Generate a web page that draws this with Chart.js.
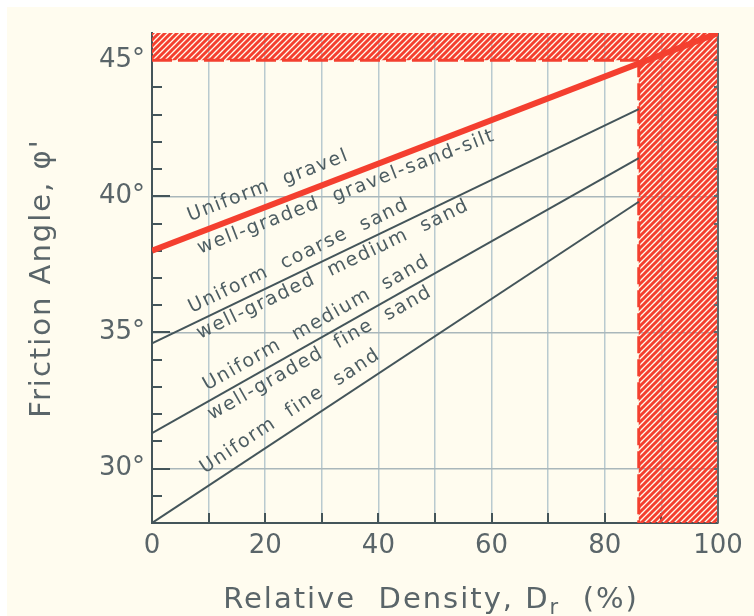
<!DOCTYPE html>
<html>
<head>
<meta charset="utf-8">
<script src="https://cdn.jsdelivr.net/npm/chart.js@4.4.1/dist/chart.umd.min.js"></script>
<style>
  html, body { margin: 0; padding: 0; background: #fff; }
  #wrap { width: 754px; height: 616px; }
</style>
</head>
<body>
<div id="wrap"><canvas id="chart" width="754" height="616"></canvas></div>
<script>
// relative density (%) at both ends of each line
const sandEnds = [0, 86];
const gravelEnds = [0, 100];
// friction angle (deg) at those ends
const coarseSand = [34.6, 43.2];
const mediumSand = [31.3, 41.4];
const fineSand = [28.0, 39.8];
const uniformGravel = [38.0, 46.0];

// limits of the hatched zones
const capAngle = 45;
const capDensity = 86;

// labels written along the lines
const labelTexts = ['Uniform  gravel', 'well-graded  gravel-sand-silt', 'Uniform  coarse  sand',
  'well-graded  medium  sand', 'Uniform  medium  sand', 'well-graded  fine  sand', 'Uniform  fine  sand'];
const labelLine = [3, 3, 0, 0, 1, 1, 2];          // dataset index
const labelStart = [7.6, 7.2, 7.8, 7.2, 10.6, 9.0, 10.5]; // density where text starts

// perpendicular gap of each label from its line (px, negative = above)
const LABEL_GAP = [-14, 20, -10, 17, -10, 18, -12];

const RED = '#f43f2f';
const INK = '#44555a';
const SOFT = '#5a6569';
const FONT = '"DejaVu Sans", sans-serif';

function pts(xs, ys) { return xs.map((x, i) => ({ x, y: ys[i] })); }

function hatchPattern(ctx) {
  const c = document.createElement('canvas');
  c.width = 6; c.height = 6;
  const g = c.getContext('2d');
  g.strokeStyle = RED; g.lineWidth = 3;
  g.beginPath();
  g.moveTo(-1, 7); g.lineTo(7, -1);
  g.moveTo(-1, 1); g.lineTo(1, -1);
  g.moveTo(5, 7); g.lineTo(7, 5);
  g.stroke();
  return ctx.createPattern(c, 'repeat');
}

const paperPlugin = {
  id: 'paper',
  beforeDraw(chart) {
    const ctx = chart.ctx;
    ctx.save();
    ctx.fillStyle = '#ffffff';
    ctx.fillRect(0, 0, chart.width, chart.height);
    ctx.fillStyle = '#fffcef';
    ctx.fillRect(7, 7, chart.width - 7, chart.height - 7);
    ctx.restore();
  }
};

const zonesPlugin = {
  id: 'zones',
  beforeDatasetsDraw(chart) {
    const { ctx, chartArea: a, scales: { x, y } } = chart;
    const yCap = y.getPixelForValue(capAngle);
    const xCap = x.getPixelForValue(capDensity);
    ctx.save();

    // inward ticks
    ctx.strokeStyle = INK; ctx.lineWidth = 2;
    ctx.beginPath();
    for (let v = 29; v < capAngle; v++) {
      const py = Math.round(y.getPixelForValue(v));
      const len = v % 5 === 0 ? 18 : 10;
      ctx.moveTo(a.left, py); ctx.lineTo(a.left + len, py);
    }
    for (let v = 10; v < 100; v += 10) {
      const px = Math.round(x.getPixelForValue(v));
      ctx.moveTo(px, a.bottom); ctx.lineTo(px, a.bottom - 10);
    }
    ctx.stroke();

    // hatched zones
    ctx.fillStyle = hatchPattern(ctx);
    ctx.fillRect(a.left, a.top, a.right - a.left, yCap - a.top);
    ctx.fillRect(xCap, yCap, a.right - xCap, a.bottom - yCap);

    // dashed edges
    ctx.strokeStyle = RED; ctx.lineWidth = 3;
    ctx.setLineDash([20, 6]);
    ctx.beginPath();
    ctx.moveTo(a.left, yCap); ctx.lineTo(xCap, yCap);
    ctx.stroke();
    ctx.setLineDash([17, 6]);
    ctx.beginPath();
    ctx.moveTo(xCap, yCap); ctx.lineTo(xCap, a.bottom);
    ctx.stroke();
    ctx.setLineDash([]);

    // right frame with small ticks
    ctx.strokeStyle = '#5d6a6e'; ctx.lineWidth = 2;
    ctx.beginPath();
    ctx.moveTo(a.right, a.top); ctx.lineTo(a.right, a.bottom);
    for (let v = 29; v < 46; v++) {
      const py = Math.round(y.getPixelForValue(v));
      ctx.moveTo(a.right, py); ctx.lineTo(a.right - 4, py);
    }
    ctx.stroke();
    ctx.restore();
  }
};

const textPlugin = {
  id: 'texts',
  afterDatasetsDraw(chart) {
    const { ctx, scales: { x, y } } = chart;
    ctx.save();
    ctx.fillStyle = '#4d5d62';
    ctx.font = '19px ' + FONT;
    ctx.letterSpacing = '1.6px';
    ctx.textBaseline = 'alphabetic';
    labelTexts.forEach((txt, i) => {
      const d = chart.data.datasets[labelLine[i]].data;
      const p0 = d[0], p1 = d[d.length - 1];
      const ang = Math.atan2(y.getPixelForValue(p1.y) - y.getPixelForValue(p0.y),
                             x.getPixelForValue(p1.x) - x.getPixelForValue(p0.x));
      const t = (labelStart[i] - p0.x) / (p1.x - p0.x);
      const px = x.getPixelForValue(labelStart[i]);
      const py = y.getPixelForValue(p0.y + t * (p1.y - p0.y));
      ctx.save();
      ctx.translate(px, py);
      ctx.rotate(ang);
      ctx.fillText(txt, 0, LABEL_GAP[i]);
      ctx.restore();
    });
    ctx.restore();
  },
  afterDraw(chart) {
    const { ctx, chartArea: a } = chart;
    ctx.save();
    ctx.fillStyle = SOFT;
    ctx.font = '29px ' + FONT;
    ctx.letterSpacing = '2px';
    ctx.textBaseline = 'alphabetic';

    // y title
    ctx.save();
    ctx.translate(50, (a.top + a.bottom) / 2);
    ctx.rotate(-Math.PI / 2);
    ctx.textAlign = 'center';
    ctx.fillText("Friction Angle, \u03c6'", 0, 0);
    ctx.restore();

    // x title with subscript
    const head = 'Relative  Density, D', tail = '  (%)';
    const wHead = ctx.measureText(head).width;
    const wTail = ctx.measureText(tail).width;
    ctx.font = '21px ' + FONT;
    const wSub = ctx.measureText('r').width;
    let sx = (a.left + a.right) / 2 - 4 - (wHead + wSub + wTail) / 2;
    const base = 608;
    ctx.textAlign = 'left';
    ctx.font = '29px ' + FONT;
    ctx.fillText(head, sx, base);
    sx += wHead;
    ctx.font = '21px ' + FONT;
    ctx.fillText('r', sx, base + 6);
    sx += wSub;
    ctx.font = '29px ' + FONT;
    ctx.fillText(tail, sx, base);
    ctx.restore();
  }
};

const darkLine = (data) => ({
  data, showLine: true, borderColor: INK, borderWidth: 2, pointRadius: 0, tension: 0
});

new Chart(document.getElementById('chart'), {
  type: 'scatter',
  data: {
    datasets: [
      darkLine(pts(sandEnds, coarseSand)),
      darkLine(pts(sandEnds, mediumSand)),
      darkLine(pts(sandEnds, fineSand)),
      { data: pts(gravelEnds, uniformGravel), showLine: true, borderColor: RED,
        borderWidth: 6, pointRadius: 0, tension: 0 }
    ]
  },
  options: {
    responsive: false,
    animation: false,
    layout: { padding: { left: 0, top: 33, right: 36, bottom: 0 } },
    plugins: { legend: { display: false }, tooltip: { enabled: false } },
    scales: {
      x: {
        type: 'linear', min: 0, max: 100,
        afterFit(s) { s.height = 93; },
        ticks: {
          stepSize: 10, autoSkip: false, maxRotation: 0, padding: 8,
          color: SOFT, font: { family: FONT, size: 26 },
          callback: v => (v % 20 === 0 ? String(v) : '')
        },
        grid: {
          drawTicks: false, lineWidth: 1.5,
          color: c => (c.tick.value > 0 && c.tick.value < 100 ? '#b9cacf' : 'rgba(0,0,0,0)')
        },
        border: { display: true, color: INK, width: 2 }
      },
      y: {
        type: 'linear', min: 28, max: 46,
        afterFit(s) { s.width = 152; },
        ticks: {
          stepSize: 1, autoSkip: false, padding: 7,
          color: SOFT, font: { family: FONT, size: 26 },
          callback: v => (v % 5 === 0 && v < 46 ? v + '\u00b0' : '')
        },
        grid: {
          drawTicks: false, lineWidth: 1.5,
          color: c => ([30, 35, 40].includes(c.tick.value) ? '#aab7bb' : 'rgba(0,0,0,0)')
        },
        border: { display: true, color: INK, width: 2 }
      }
    }
  },
  plugins: [paperPlugin, zonesPlugin, textPlugin]
});
</script>
</body>
</html>
